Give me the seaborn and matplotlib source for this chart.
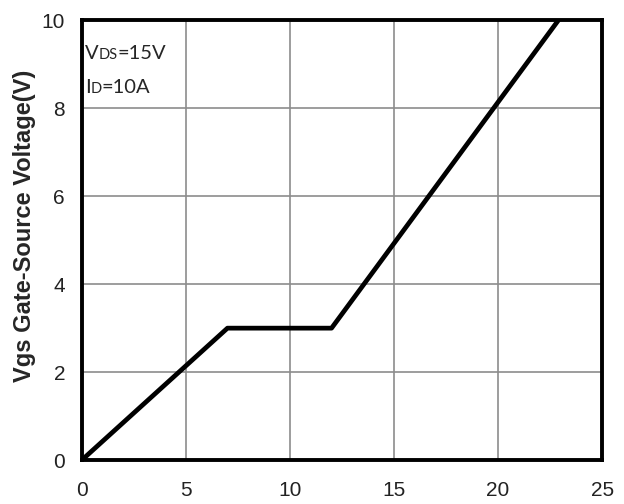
"""
plot.py

Gate charge curve: Vgs vs Qg.
"""

import matplotlib
matplotlib.use("Agg")

import pandas as pd
import matplotlib.pyplot as plt
import seaborn as sns

############################################################
# Data
############################################################

qg = [0, 7.0, 12.0, 22.9]

vgs = [0, 3.0, 3.0, 10.0]

x_ticks = [0, 5, 10, 15, 20, 25]

y_ticks = [0, 2, 4, 6, 8, 10]

############################################################
# Plot
############################################################

def plot():

    sns.set_theme(style="white")

    plt.rcParams["font.family"] = ["Liberation Sans", "DejaVu Sans"]

    df = pd.DataFrame({"Qg": qg, "Vgs": vgs})

    fig = plt.figure(figsize=(6.24, 5.04), dpi=100)

    ax = fig.add_axes([0.131, 0.087, 0.834, 0.873])

    sns.lineplot(
        data=df,
        x="Qg",
        y="Vgs",
        color="black",
        linewidth=3.4,
        ax=ax,
        sort=False,
    )

    ax.set_xlim(0, 25)
    ax.set_ylim(0, 10)

    ax.set_xticks(x_ticks)
    ax.set_yticks(y_ticks)

    ax.tick_params(axis="both", length=0, labelsize=15, colors="#222222")
    ax.tick_params(axis="x", pad=15)
    ax.tick_params(axis="y", pad=12)

    ax.grid(True, color="#8c8c8c", linewidth=1.2)
    ax.set_axisbelow(True)

    for side in ax.spines.values():
        side.set_color("black")
        side.set_linewidth(2.8)

    ax.set_xlabel("")
    ax.set_ylabel("")

    # y label placed by figure coords (sits a bit above centre)
    fig.text(
        0.040, 0.552,
        "Vgs Gate-Source Voltage(V)",
        rotation=90,
        fontsize=17,
        fontweight="bold",
        ha="center",
        va="center",
    )

    ########################################################
    # conditions text: V_DS=15V, I_D=10A

    note_font = ["Lato", "DejaVu Sans"]

    t1 = ax.text(0.006, 0.905, "V", transform=ax.transAxes,
                 fontsize=14.5, family=note_font, va="bottom")
    t2 = ax.annotate("DS", xy=(1, 0), xycoords=t1, fontsize=10.5,
                     family=note_font, va="bottom")
    ax.annotate("=15V", xy=(1, 0), xycoords=t2, fontsize=14.5,
                family=note_font, va="bottom")

    t3 = ax.text(0.006, 0.828, "I", transform=ax.transAxes,
                 fontsize=14.5, family=note_font, va="bottom")
    t4 = ax.annotate("D", xy=(1, 0), xycoords=t3, fontsize=10.5,
                     family=note_font, va="bottom")
    ax.annotate("=10A", xy=(1, 0), xycoords=t4, fontsize=14.5,
                family=note_font, va="bottom")

    fig.savefig("out.png", dpi=100)

    plt.close(fig)


############################################################

if __name__ == "__main__":

    plot()
